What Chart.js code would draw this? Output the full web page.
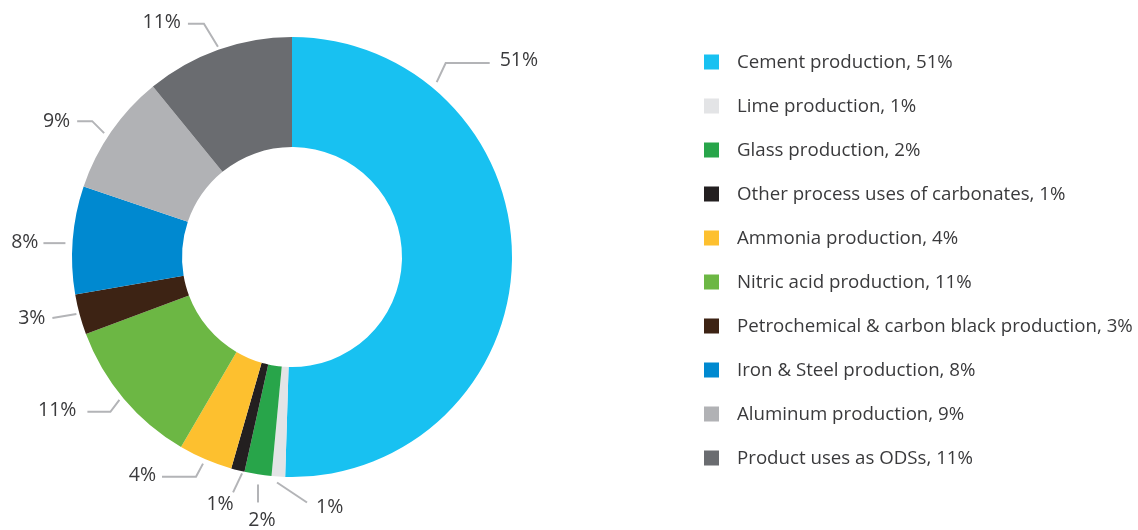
<!DOCTYPE html>
<html>
<head>
<meta charset="utf-8">
<title>Industrial process emissions by source</title>
<script src="https://cdn.jsdelivr.net/npm/chart.js@4.4.1/dist/chart.umd.min.js"></script>
<style>
  html, body { margin: 0; padding: 0; background: #fff; }
  #wrap { width: 1138px; height: 530px; }
</style>
</head>
<body>
<div id="wrap"><canvas id="shareChart" width="1138" height="530"></canvas></div>
<script>
const sources = [
  "Cement production",
  "Lime production",
  "Glass production",
  "Other process uses of carbonates",
  "Ammonia production",
  "Nitric acid production",
  "Petrochemical & carbon black production",
  "Iron & Steel production",
  "Aluminum production",
  "Product uses as ODSs"
];
const shares = [51, 1, 2, 1, 4, 11, 3, 8, 9, 11];
const sliceColors = [
  "#18c1f1", "#e3e4e6", "#28a54a", "#231f20", "#fdc02f",
  "#6cb744", "#3d2314", "#0089d0", "#b1b2b5", "#6a6c70"
];

// leader line for each slice: where it leaves the ring (deg clockwise from top, radius),
// the bends after that (relative px) and which side the text sits on
const callouts = [
  { deg: 39.6,  r: 227, path: [[9, -19], [53, -19]], align: "left",   dx: 10, dy: -3 },
  { deg: 183.8, r: 226, path: [[30, 20]],            align: "left",   dx: 9,  dy: 5 },
  { deg: 188.5, r: 230, path: [[0, 18]],             align: "center", dx: 4,  dy: 18 },
  { deg: 193,   r: 222, path: [[-9, 19]],            align: "center", dx: -13, dy: 12 },
  { deg: 203.3, r: 225, path: [[-7, 13], [-41, 13]], align: "right",  dx: -6, dy: -1 },
  { deg: 230.4, r: 224, path: [[-9, 12], [-32, 12]], align: "right",  dx: -11, dy: -1 },
  { deg: 255.2, r: 223, path: [[-24, 4]],            align: "right",  dx: -7, dy: 0 },
  { deg: 273.5, r: 227, path: [[-22, 0]],            align: "right",  dx: -5, dy: -1 },
  { deg: 303.4, r: 225, path: [[-12, -12], [-27, -12]], align: "right", dx: -7, dy: 0 },
  { deg: 340.6, r: 223, path: [[-14, -23], [-30, -23]], align: "right", dx: -7, dy: -1 }
];

const textFont = "18.7px 'Open Sans', 'Noto Sans', sans-serif";
const pctFont = "19.5px 'Open Sans', 'Noto Sans', sans-serif";
const textColor = "#3a3a3c";

const calloutPlugin = {
  id: "callouts",
  afterDatasetsDraw(chart) {
    const ctx = chart.ctx;
    const arc = chart.getDatasetMeta(0).data[0];
    const cx = arc.x, cy = arc.y;
    ctx.save();
    ctx.strokeStyle = "#b3b4b7";
    ctx.lineWidth = 2;
    ctx.font = pctFont;
    ctx.fillStyle = textColor;
    ctx.textBaseline = "middle";
    callouts.forEach((c, i) => {
      const a = (c.deg - 90) * Math.PI / 180;
      const x0 = cx + c.r * Math.cos(a);
      const y0 = cy + c.r * Math.sin(a);
      ctx.beginPath();
      ctx.moveTo(x0, y0);
      let ex = x0, ey = y0;
      c.path.forEach(p => {
        ex = x0 + p[0];
        ey = y0 + p[1];
        ctx.lineTo(ex, ey);
      });
      ctx.stroke();
      ctx.textAlign = c.align;
      ctx.fillText(shares[i] + "%", ex + c.dx, ey + c.dy);
    });
    ctx.restore();
  }
};

const legendPlugin = {
  id: "sideLegend",
  afterDraw(chart) {
    const ctx = chart.ctx;
    const left = 704, top = 62, step = 44, box = 15;
    ctx.save();
    ctx.font = textFont;
    ctx.textBaseline = "middle";
    ctx.textAlign = "left";
    chart.data.labels.forEach((label, i) => {
      const y = top + i * step;
      ctx.fillStyle = sliceColors[i];
      ctx.fillRect(left, y - box / 2, box, box);
      ctx.fillStyle = textColor;
      ctx.fillText(label + ", " + shares[i] + "%", left + 33, y + 0.5);
    });
    ctx.restore();
  }
};

new Chart(document.getElementById("shareChart"), {
  type: "doughnut",
  data: {
    labels: sources,
    datasets: [{
      data: shares,
      backgroundColor: sliceColors,
      borderWidth: 0
    }]
  },
  options: {
    responsive: false,
    animation: false,
    devicePixelRatio: 1,
    cutout: "50%",
    layout: { padding: { left: 72, top: 37, right: 626, bottom: 53 } },
    plugins: {
      legend: { display: false },
      tooltip: { enabled: false }
    }
  },
  plugins: [calloutPlugin, legendPlugin]
});
</script>
</body>
</html>
